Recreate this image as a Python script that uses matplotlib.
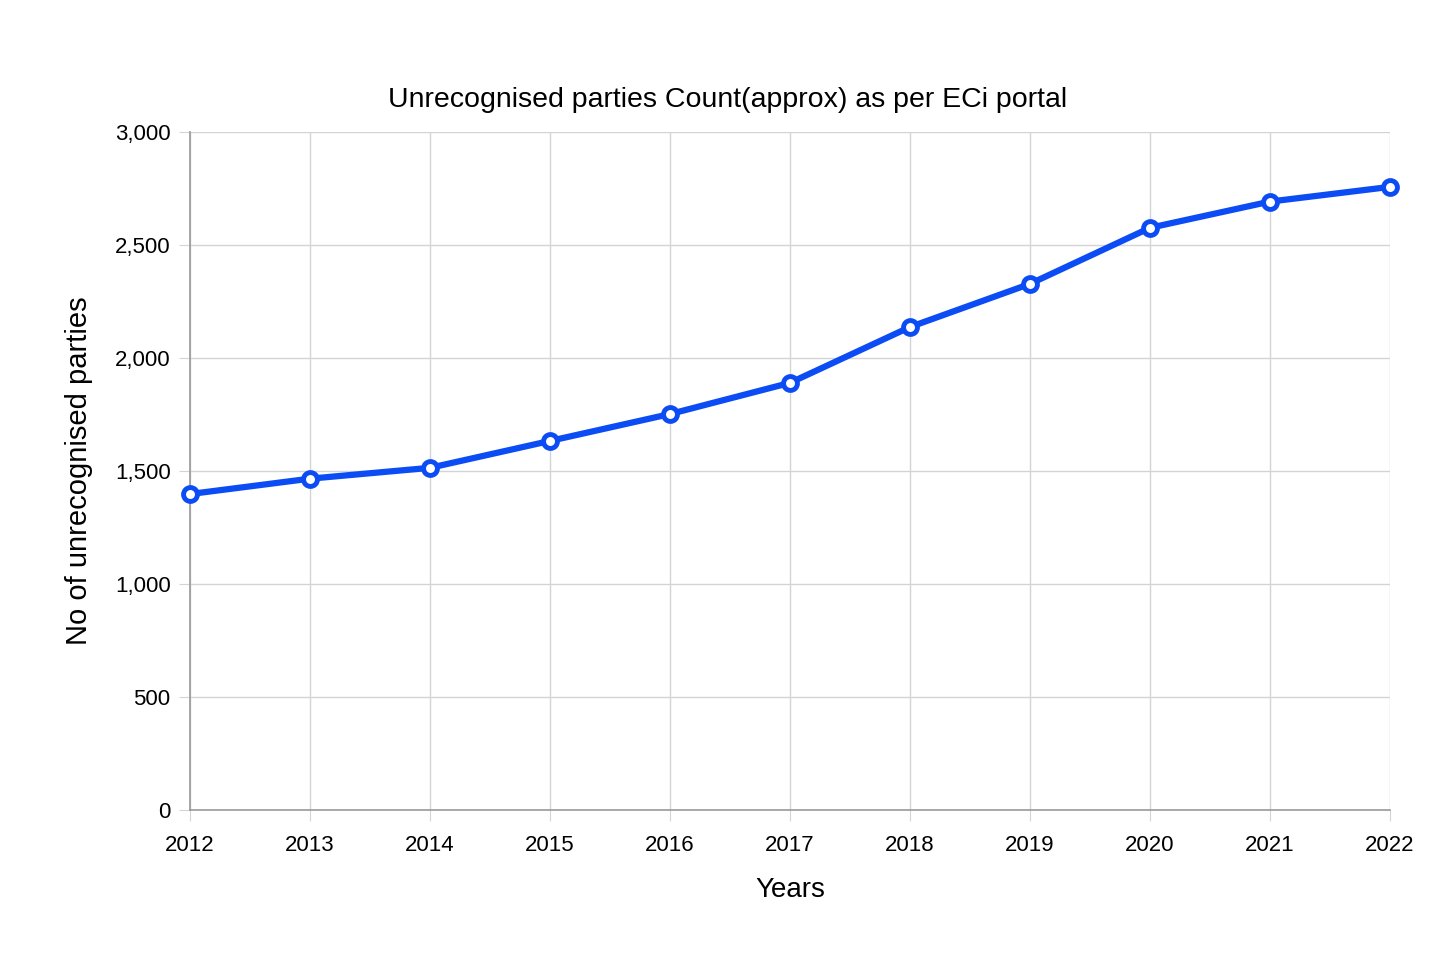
import matplotlib.pyplot as plt
from matplotlib.ticker import FuncFormatter

years = [2012, 2013, 2014, 2015, 2016, 2017, 2018, 2019, 2020, 2021, 2022]
counts = [1398, 1466, 1514, 1633, 1752, 1890, 2137, 2328, 2576, 2692, 2757]
y_ticks = [0, 500, 1000, 1500, 2000, 2500, 3000]

plt.rcParams['font.family'] = ['Liberation Sans', 'DejaVu Sans']

fig = plt.figure(figsize=(14.56, 9.71), dpi=100)
ax = fig.add_axes([0.1305, 0.1658, 0.8242, 0.6983])

ax.plot(years, counts, color='#0b4cf5', linewidth=4.5, marker='o',
        markersize=10, markerfacecolor='white', markeredgecolor='#0b4cf5',
        markeredgewidth=3.5, zorder=3, clip_on=False)

ax.set_xlim(2012, 2022)
ax.set_ylim(0, 3000)
ax.set_xticks(years)
ax.set_yticks(y_ticks)
ax.yaxis.set_major_formatter(FuncFormatter(lambda v, p: f'{int(v):,}'))

ax.grid(True, color='#d4d4d4', linewidth=1)
ax.set_axisbelow(True)
for s in ['top', 'right']:
    ax.spines[s].set_visible(False)
ax.spines['left'].set_color('#999999')
ax.spines['bottom'].set_color('#999999')
ax.spines['left'].set_linewidth(1.2)
ax.spines['bottom'].set_linewidth(1.2)
ax.tick_params(axis='both', length=8, color='#d4d4d4', labelsize=16)
ax.tick_params(axis='x', pad=10)
ax.tick_params(axis='y', pad=6)

# title is centred on the figure, not the axes
fig.text(0.5, 1 - 100 / 971, 'Unrecognised parties Count(approx) as per ECi portal',
         fontsize=20.5, ha='center', va='center')
ax.set_xlabel('Years', fontsize=20, labelpad=15)
ax.set_ylabel('No of unrecognised parties', fontsize=21, labelpad=16)

fig.savefig('out.png', dpi=100, facecolor='white')
